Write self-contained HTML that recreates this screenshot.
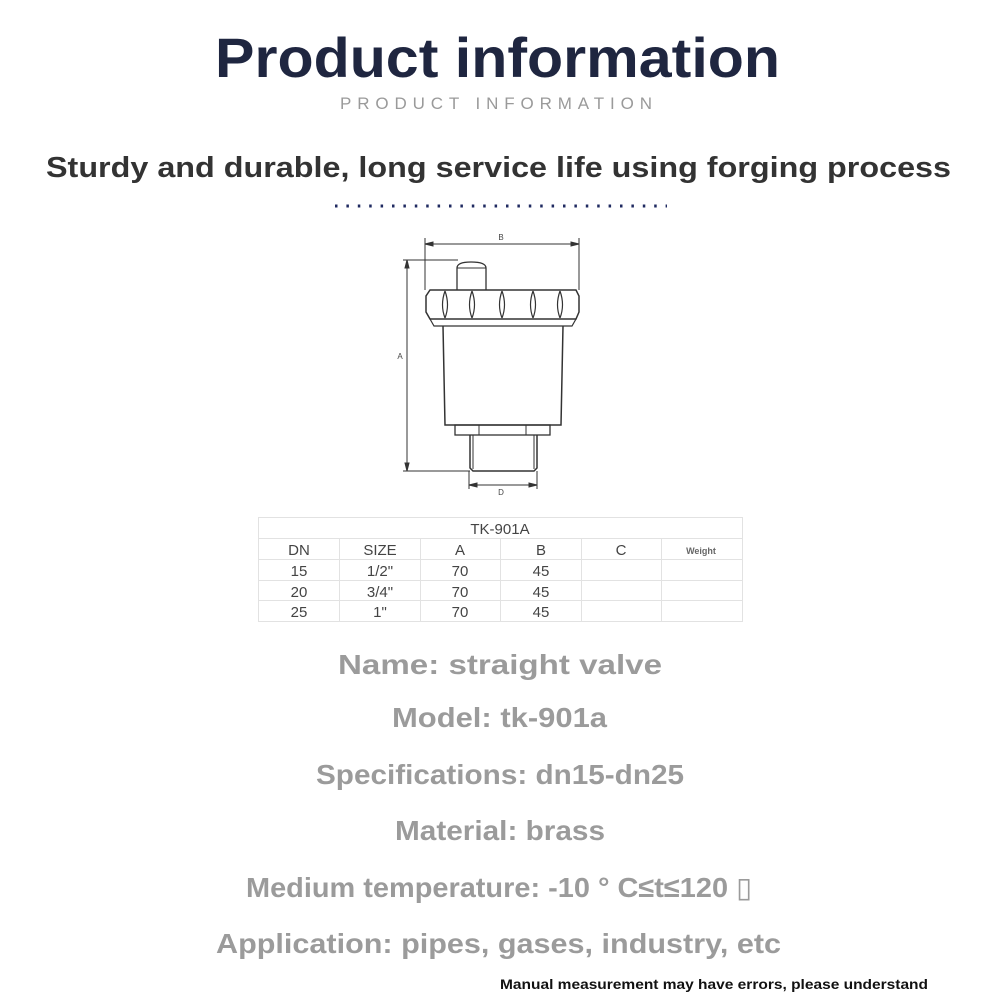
<!DOCTYPE html>
<html><head><meta charset="utf-8"><style>
html,body{margin:0;padding:0;background:#fff;}
svg{display:block;}
text{font-family:"Liberation Sans","DejaVu Sans",sans-serif;}
</style></head><body>
<svg width="1000" height="1000" viewBox="0 0 1000 1000" xmlns="http://www.w3.org/2000/svg">
<rect width="1000" height="1000" fill="#fff"/>
<text x="215" y="77" font-size="56" font-weight="bold" fill="#1f2640" textLength="565" lengthAdjust="spacingAndGlyphs">Product information</text>
<text x="340" y="109" font-size="17" fill="#9a9a9a" textLength="312" lengthAdjust="spacing">PRODUCT INFORMATION</text>
<text x="46" y="177" font-size="29" font-weight="bold" fill="#333" textLength="905" lengthAdjust="spacingAndGlyphs">Sturdy and durable, long service life using forging process</text>
<line x1="335" y1="206" x2="667" y2="206" stroke="#1f2a60" stroke-width="3" stroke-dasharray="2.5,8.9"/>

<g stroke="#333" stroke-width="1" fill="none">
<line x1="425" y1="244" x2="579" y2="244"/>
<line x1="425" y1="238" x2="425" y2="290"/>
<line x1="579" y1="238" x2="579" y2="290"/>
<path d="M425 244 l8 -2 v4 z M579 244 l-8 -2 v4 z" fill="#333"/>
<line x1="407" y1="260" x2="407" y2="471"/>
<line x1="403" y1="260" x2="458" y2="260"/>
<line x1="403" y1="471" x2="470" y2="471"/>
<path d="M407 260 l-2 8 h4 z M407 471 l-2 -8 h4 z" fill="#333"/>
<line x1="469" y1="485" x2="537" y2="485"/>
<line x1="469" y1="471" x2="469" y2="489"/>
<line x1="537" y1="471" x2="537" y2="489"/>
<path d="M469 485 l8 -2 v4 z M537 485 l-8 -2 v4 z" fill="#333"/>
<path d="M457 290 V268 Q457 262 471 262 Q486 262 486 268 V290" stroke-width="1.3"/>
<line x1="457" y1="268" x2="486" y2="268"/>
<path d="M430 290 H576 L579 296 V312 L576 319 H430 L426 312 V296 Z" stroke-width="1.5"/>
<path d="M445 291 Q440 305 445 318 M472 291 Q467 305 472 318 M472 291 Q477 305 472 318 M502 291 Q497 305 502 318 M502 291 Q507 305 502 318 M533 291 Q538 305 533 318 M560 291 Q565 305 560 318 M445 291 Q450 305 445 318 M533 291 Q528 305 533 318 M560 291 Q555 305 560 318" stroke-width="1.2"/>
<path d="M430 319 L434 326 H572 L576 319" stroke-width="1.2"/>
<path d="M443 326 L445 425 H561 L563 326" stroke-width="1.5"/>
<rect x="455" y="425" width="95" height="10" stroke-width="1.3"/>
<line x1="479" y1="425" x2="479" y2="435"/>
<line x1="526" y1="425" x2="526" y2="435"/>
<path d="M470 435 V468 L473 471 H534 L537 468 V435" stroke-width="1.5"/>
<line x1="473" y1="435" x2="473" y2="469"/>
<line x1="534" y1="435" x2="534" y2="469"/>
</g>
<text x="501" y="240" font-size="8" fill="#444" text-anchor="middle" font-family="Liberation Serif">B</text>
<text x="400" y="359" font-size="8" fill="#444" text-anchor="middle" font-family="Liberation Serif">A</text>
<text x="501" y="495" font-size="8" fill="#444" text-anchor="middle" font-family="Liberation Serif">D</text>

<g stroke="#e2e2e2" stroke-width="1">
<rect x="258.5" y="517.5" width="484" height="104" fill="none"/>
<line x1="258" y1="538.5" x2="742" y2="538.5"/>
<line x1="258" y1="559.5" x2="742" y2="559.5"/>
<line x1="258" y1="580.5" x2="742" y2="580.5"/>
<line x1="258" y1="600.5" x2="742" y2="600.5"/>
<line x1="339.5" y1="538" x2="339.5" y2="621"/>
<line x1="420.5" y1="538" x2="420.5" y2="621"/>
<line x1="500.5" y1="538" x2="500.5" y2="621"/>
<line x1="581.5" y1="538" x2="581.5" y2="621"/>
<line x1="661.5" y1="538" x2="661.5" y2="621"/>
</g>
<g font-size="15" fill="#444" text-anchor="middle">
<text x="500" y="534">TK-901A</text>
<text x="299" y="555">DN</text><text x="380" y="555">SIZE</text><text x="460" y="555">A</text><text x="541" y="555">B</text><text x="621" y="555">C</text>
<text x="701" y="554" font-size="9" font-weight="bold" fill="#666">Weight</text>
<text x="299" y="576">15</text><text x="380" y="576">1/2"</text><text x="460" y="576">70</text><text x="541" y="576">45</text>
<text x="299" y="597">20</text><text x="380" y="597">3/4"</text><text x="460" y="597">70</text><text x="541" y="597">45</text>
<text x="299" y="617">25</text><text x="380" y="617">1"</text><text x="460" y="617">70</text><text x="541" y="617">45</text>
</g>

<g font-size="28" font-weight="bold" fill="#9b9b9b">
<text x="338" y="674" textLength="324" lengthAdjust="spacingAndGlyphs">Name: straight valve</text>
<text x="392" y="727" textLength="215" lengthAdjust="spacingAndGlyphs">Model: tk-901a</text>
<text x="316" y="784" textLength="368" lengthAdjust="spacingAndGlyphs">Specifications: dn15-dn25</text>
<text x="395" y="840" textLength="210" lengthAdjust="spacingAndGlyphs">Material: brass</text>
<text x="246" y="897" textLength="506" lengthAdjust="spacingAndGlyphs">Medium temperature: -10 ° C≤t≤120 ▯</text>
<text x="216" y="953" textLength="565" lengthAdjust="spacingAndGlyphs">Application: pipes, gases, industry, etc</text>
</g>
<text x="500" y="989" font-size="14" font-weight="bold" fill="#111" textLength="428" lengthAdjust="spacingAndGlyphs">Manual measurement may have errors, please understand</text>
</svg>
</body></html>
